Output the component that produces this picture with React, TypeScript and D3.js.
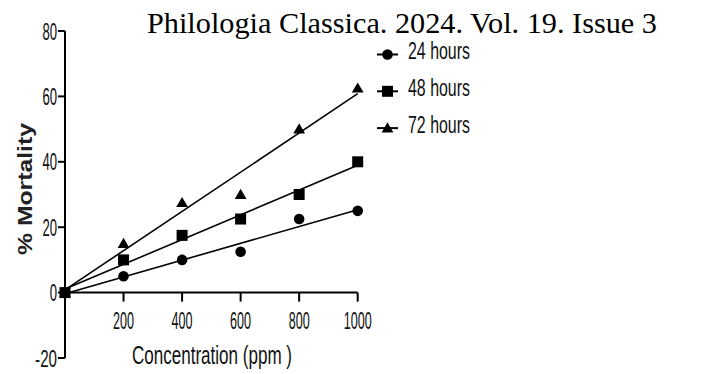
import React from "react";
import * as d3 from "d3";

// Concentration levels (ppm) and % mortality for each exposure time
const concentrations = [0, 200, 400, 600, 800, 1000];
const mortality24h = [0, 5, 10, 12.5, 22.5, 25];
const mortality48h = [0, 10, 17.5, 22.5, 30, 40];
const mortality72h = [0, 15, 27.5, 30, 50, 62.5];
const seriesNames = ["24 hours", "48 hours", "72 hours"];
const xTicks = [200, 400, 600, 800, 1000];
const yTicks = [-20, 0, 20, 40, 60, 80];

const W = 704;
const H = 374;
const narrow = "'Liberation Sans Narrow', 'Liberation Sans', Arial, sans-serif";

function fit(xs: number[], ys: number[]) {
  const mx = d3.mean(xs)!;
  const my = d3.mean(ys)!;
  const sxy = d3.sum(xs, (x, i) => (x - mx) * (ys[i] - my));
  const sxx = d3.sum(xs, (x) => (x - mx) * (x - mx));
  const slope = sxy / sxx;
  return { slope, intercept: my - slope * mx };
}

function Marker({ kind, cx, cy }: { kind: number; cx: number; cy: number }) {
  if (kind === 0) return <circle cx={cx} cy={cy} r={5.3} fill="#000" />;
  if (kind === 1) return <rect x={cx - 5.5} y={cy - 5.5} width={11} height={11} fill="#000" />;
  const p = d3.symbol(d3.symbolTriangle, 60)()!;
  return <path d={p} transform={`translate(${cx},${cy + 1})`} fill="#000" />;
}

export default function App() {
  const x = d3.scaleLinear().domain([0, 1000]).range([65, 357.7]);
  const y = d3.scaleLinear().domain([-20, 80]).range([358, 31]);
  const series = [mortality24h, mortality48h, mortality72h];

  return (
    <svg width={W} height={H} style={{ position: "absolute", left: 0, top: 0, background: "#fff" }}>
      <text x={147} y={33} fontFamily="'Liberation Serif', 'Times New Roman', serif" fontSize={30} fill="#000"
        textLength={510} lengthAdjust="spacingAndGlyphs">
        Philologia Classica. 2024. Vol. 19. Issue 3
      </text>

      {/* axes */}
      <line x1={x(0)} x2={x(0)} y1={y(80)} y2={y(-20)} stroke="#000" strokeWidth={2} />
      <line x1={x(0)} x2={x(1000)} y1={y(0)} y2={y(0)} stroke="#000" strokeWidth={2} />
      {yTicks.map((t) => (
        <g key={"y" + t}>
          <line x1={x(0) - 7} x2={x(0)} y1={y(t)} y2={y(t)} stroke="#000" strokeWidth={2} />
          <text x={57} y={y(t) + 8.5} textAnchor="end" fontFamily={narrow} fontSize={24} fill="#111"
            textLength={String(t).length * 7.3} lengthAdjust="spacingAndGlyphs">{t}</text>
        </g>
      ))}
      {xTicks.map((t) => (
        <g key={"x" + t}>
          <line x1={x(t)} x2={x(t)} y1={y(0)} y2={y(0) + 9} stroke="#000" strokeWidth={2} />
          <text x={x(t)} y={329} textAnchor="middle" fontFamily={narrow} fontSize={24} fill="#111"
            textLength={String(t).length * 7} lengthAdjust="spacingAndGlyphs">{t}</text>
        </g>
      ))}
      <text x={132} y={364} fontFamily={narrow} fontSize={25} fill="#111"
        textLength={160} lengthAdjust="spacingAndGlyphs">Concentration (ppm )</text>
      <text transform="translate(32,255) rotate(-90)" fontFamily="'Liberation Sans', Arial, sans-serif"
        fontWeight="bold" fontSize={21} fill="#222" textLength={132} lengthAdjust="spacingAndGlyphs">
        % Mortality
      </text>

      {/* fitted lines and points */}
      {series.map((ys, k) => {
        const f = fit(concentrations, ys);
        return (
          <g key={"s" + k}>
            <line x1={x(0)} y1={y(f.intercept)} x2={x(1000)} y2={y(f.intercept + f.slope * 1000)}
              stroke="#000" strokeWidth={1.6} />
            {ys.map((v, i) => (
              <Marker key={i} kind={k} cx={x(concentrations[i])} cy={y(v)} />
            ))}
          </g>
        );
      })}

      {/* legend */}
      {seriesNames.map((name, k) => {
        const cy = 54.5 + k * 36.8;
        return (
          <g key={name}>
            <line x1={377} x2={398} y1={cy} y2={cy} stroke="#000" strokeWidth={2} />
            <Marker kind={k} cx={387.5} cy={cy} />
            <text x={408} y={cy + 4.5} fontFamily={narrow} fontSize={23} fill="#111"
              textLength={62} lengthAdjust="spacingAndGlyphs">{name}</text>
          </g>
        );
      })}
    </svg>
  );
}
